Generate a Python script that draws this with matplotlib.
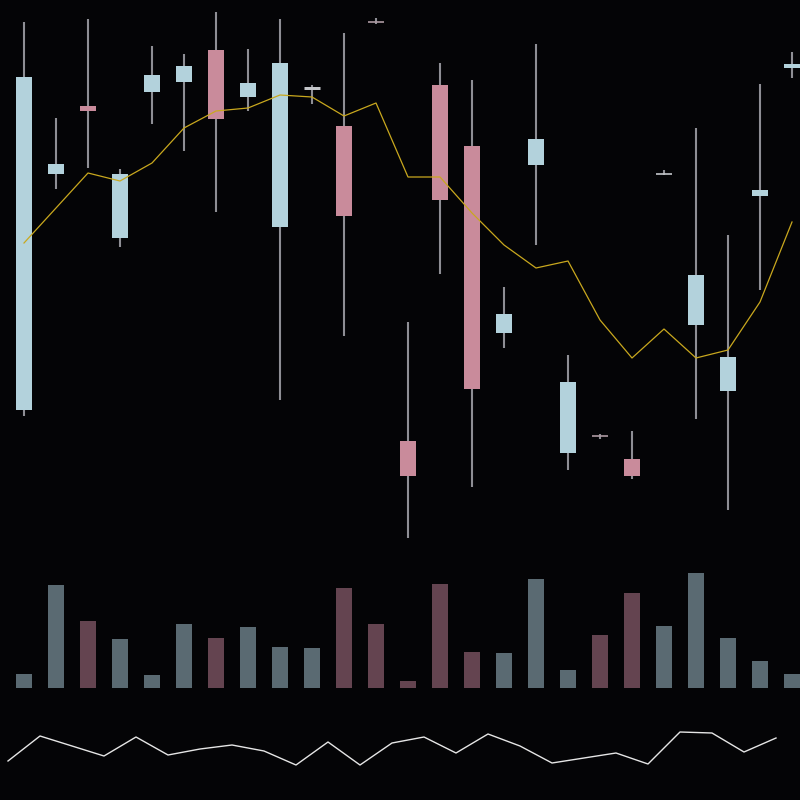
import numpy as np
import matplotlib
matplotlib.use("Agg")
import matplotlib.pyplot as plt

# candle data (price units), one entry per bar
opens = [15.0, 38.6, 45.4, 32.2, 46.8, 47.8, 51.0, 46.3, 33.3, 47.1,
         43.4, 53.85, 11.9, 47.5, 41.4, 22.7, 39.5, 10.7, 12.45, 10.1,
         38.55, 23.5, 16.9, 36.4, 49.2]
closes = [48.3, 39.6, 44.9, 38.6, 48.5, 49.4, 44.1, 47.7, 49.7, 47.4,
          34.4, 53.75, 8.4, 36.0, 17.1, 24.6, 42.1, 17.8, 12.3, 8.4,
          38.6, 28.5, 20.3, 37.0, 49.6]
highs = [53.8, 44.2, 54.1, 39.1, 51.4, 50.6, 54.8, 51.1, 54.1, 47.5,
         52.7, 54.2, 23.8, 49.7, 48.0, 27.3, 51.6, 20.5, 12.6, 12.9,
         39.0, 43.2, 32.5, 47.6, 50.8]
lows = [14.4, 37.1, 39.2, 31.3, 43.6, 40.9, 34.8, 44.9, 16.0, 45.6,
        22.4, 53.6, 2.2, 28.6, 7.3, 21.2, 31.5, 9.0, 12.1, 8.1,
        38.5, 14.1, 5.0, 27.0, 48.2]
ma = [31.7, 35.2, 38.7, 37.9, 39.7, 43.2, 44.9, 45.2, 46.5, 46.3,
      44.4, 45.7, 38.3, 38.3, 34.7, 31.5, 29.2, 29.9, 24.0, 20.2,
      23.1, 20.2, 21.0, 25.8, 33.8]
volumes = [1400, 10300, 6700, 4900, 1300, 6400, 5000, 6100, 4100, 4000,
           10000, 6400, 700, 10400, 3600, 3500, 10900, 1800, 5300, 9500,
           6200, 11500, 5000, 2700, 1400]
indicator = [39, 64, 54, 44, 63, 45, 51, 55, 49, 35,
             58, 35, 57, 63, 47, 66, 54, 37, 42, 47,
             36, 68, 67, 48, 62]

bg = '#040406'
up_col, down_col = '#b3d2dc', '#c98b9b'
up_flat, down_flat = '#c4c6ca', '#ad9aa2'
vol_up, vol_down = '#5a6a72', '#644450'

x = np.arange(len(opens))

fig = plt.figure(figsize=(8, 8), dpi=100, facecolor=bg)
ax = fig.add_axes([0, 0.3, 1, 0.7], facecolor=bg)
ax_vol = fig.add_axes([0, 0.14, 1, 0.16], facecolor=bg)
ax_ind = fig.add_axes([0, 0, 1, 0.125], facecolor=bg)

# candlesticks
for i in x:
    o, c = opens[i], closes[i]
    ax.vlines(i, lows[i], highs[i], color='#8e8e94', linewidth=1.5, zorder=1)
    if abs(c - o) < 0.35:
        col = up_flat if c >= o else down_flat
        ax.hlines((o + c) / 2, i - 0.25, i + 0.25, color=col,
                  linewidth=max(abs(c - o) * 10 * 0.72, 1.2), zorder=2)
    else:
        col = up_col if c > o else down_col
        ax.bar(i, abs(c - o), bottom=min(o, c), width=0.5, color=col,
               linewidth=0, zorder=2)

ax.plot(x, ma, color='#c9a81e', linewidth=0.9, zorder=3)
ax.set_xlim(-0.75, 24.25)
ax.set_ylim(0, 56)
ax.axis('off')

# volume
vcols = [vol_up if closes[i] >= opens[i] else vol_down for i in x]
ax_vol.bar(x, volumes, width=0.5, color=vcols, linewidth=0)
ax_vol.set_xlim(-0.75, 24.25)
ax_vol.set_ylim(0, 12800)
ax_vol.axis('off')

# indicator line
ax_ind.plot(x - 0.5, indicator, color='#e6e6e6', linewidth=1.0)
ax_ind.set_xlim(-0.75, 24.25)
ax_ind.set_ylim(0, 100)
ax_ind.axis('off')

fig.savefig('out.png', dpi=100, facecolor=bg)
